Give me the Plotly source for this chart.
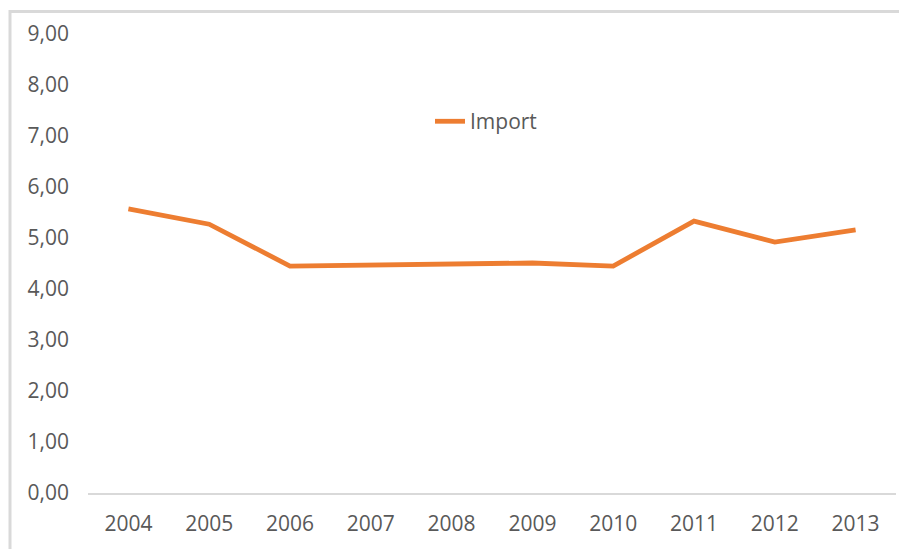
import plotly.graph_objects as go

years = ["2004", "2005", "2006", "2007", "2008", "2009", "2010", "2011", "2012", "2013"]
import_values = [5.57, 5.27, 4.45, 4.47, 4.47, 4.51, 4.45, 5.33, 4.92, 5.16]
series_name = "Import"
y_ticks = [0, 1, 2, 3, 4, 5, 6, 7, 8, 9]

# page body has an 8px default margin; compensate so the figure lines up with the window
OFF = 8
W, H = 907 - OFF, 549 - OFF
L, R, T, B = 88 - OFF, 11, 32 - OFF, 56
pw = W - L - R
ph = H - T - B

font_family = "Open Sans, Lato, DejaVu Sans, sans-serif"
grey_text = "#595959"
border = "#d9d9d9"
fs = 21


def px_x(ax):  # absolute window x -> paper x
    return (ax - OFF - L) / pw


def px_y(ay):  # absolute window y -> paper y
    return (H - B - (ay - OFF)) / ph


fig = go.Figure()
fig.add_trace(go.Scatter(
    x=years, y=import_values, mode="lines", name=series_name,
    line=dict(color="#ED7D31", width=4.8),
    showlegend=True,
))

fig.update_layout(
    width=W, height=H,
    margin=dict(l=L, r=R, t=T, b=B, pad=0),
    paper_bgcolor="white", plot_bgcolor="white",
    separators=", ",
    font=dict(family=font_family, size=fs, color=grey_text),
    showlegend=True,
    legend=dict(
        x=px_x(430), y=px_y(120),
        xanchor="left", yanchor="middle",
        bgcolor="rgba(0,0,0,0)", borderwidth=0,
        font=dict(family=font_family, size=fs, color=grey_text),
    ),
    xaxis=dict(
        type="category", range=[-0.5, len(years) - 0.5],
        showgrid=False, zeroline=False,
        showline=True, linecolor=border, linewidth=1.5,
        ticks="", ticklabelstandoff=11,
        tickfont=dict(family=font_family, size=fs, color=grey_text),
    ),
    yaxis=dict(
        range=[0, 9], tickvals=y_ticks, tickformat=".2f",
        showgrid=False, zeroline=False, showline=False,
        ticks="", ticklabelstandoff=18,
        tickfont=dict(family=font_family, size=fs, color=grey_text),
    ),
    shapes=[
        dict(type="line", xref="paper", yref="paper",
             x0=px_x(10), x1=px_x(10),
             y0=px_y(8), y1=px_y(560),
             line=dict(color=border, width=3)),
        dict(type="line", xref="paper", yref="paper",
             x0=px_x(9), x1=px_x(912),
             y0=px_y(9.5), y1=px_y(9.5),
             line=dict(color=border, width=3)),
    ],
)

fig.write_html("out.html")
